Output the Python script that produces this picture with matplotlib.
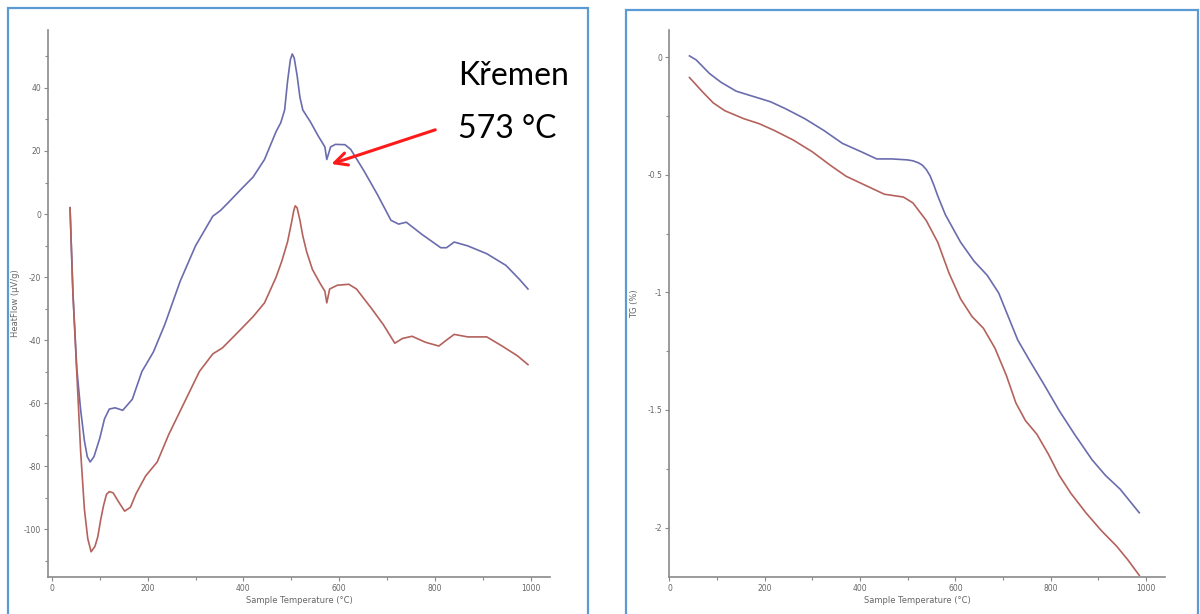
import matplotlib.pyplot as plt
from matplotlib.patches import Rectangle
from matplotlib.ticker import MultipleLocator, FuncFormatter

# DSC - HeatFlow (uV/g)
dsc_t_blue = [38, 44, 52, 60, 68, 74, 80, 88, 100, 110, 120, 132, 148, 168, 188, 212, 236, 268,
              300, 336, 352, 372, 396, 420, 444, 468, 478, 486, 492, 498, 502, 506, 512, 518, 524,
              540, 556, 570, 574, 582, 592, 612, 624, 652, 680, 708, 724, 740, 772, 812, 824, 840,
              868, 908, 948, 976, 994]
dsc_blue = [2, -25, -48.8, -62, -72, -77, -78.7, -77, -71.2, -65, -61.9, -61.5, -62.3, -58.8, -50,
            -43.8, -35, -21.3, -10.1, -0.7, 1.1, 4.2, 8, 11.7, 17.3, 26.1, 29, 33, 42, 49, 50.8,
            49.5, 44, 37, 33, 29.2, 24.8, 21.3, 17.3, 21.3, 22.1, 22, 20.5, 13.6, 6.1, -2, -3.2,
            -2.6, -6.4, -10.7, -10.7, -8.9, -10.1, -12.6, -16.3, -20.7, -23.8]

dsc_t_red = [38, 44, 52, 60, 68, 75, 82, 90, 96, 102, 108, 114, 120, 128, 140, 152, 164, 176, 196,
             220, 244, 276, 308, 336, 356, 388, 420, 444, 468, 480, 492, 500, 505, 508, 512, 518,
             524, 532, 544, 560, 570, 574, 580, 596, 620, 636, 668, 692, 716, 732, 752, 780, 808,
             824, 840, 868, 908, 940, 972, 994]
dsc_red = [2, -25, -50, -75, -93.7, -103, -107.2, -105.5, -102.4, -97, -92.5, -89, -88.1, -88.5,
           -91.5, -94.3, -93.1, -88.7, -83.1, -78.7, -70, -60, -50, -44.4, -42.5, -37.6, -32.6,
           -28.2, -20.1, -15, -8.9, -3, 1, 2.6, 2, -2, -7, -12, -17.6, -22, -24.5, -28.2, -23.8,
           -22.6, -22.3, -23.8, -30.1, -35.1, -41, -39.5, -38.8, -40.7, -41.9, -40, -38.2, -39,
           -39, -41.9, -45, -47.8]

# TG (%)
tg_t_blue = [42, 56, 84, 108, 140, 180, 212, 244, 284, 324, 363, 403, 435, 467, 499, 511, 523,
             531, 539, 547, 555, 563, 579, 611, 639, 667, 691, 711, 731, 755, 787, 818, 850, 887,
             915, 946, 986]
tg_blue = [0.005, -0.012, -0.07, -0.107, -0.145, -0.17, -0.19, -0.22, -0.262, -0.312, -0.367,
           -0.403, -0.433, -0.433, -0.437, -0.441, -0.45, -0.46, -0.478, -0.505, -0.545, -0.59,
           -0.67, -0.787, -0.867, -0.928, -1.003, -1.103, -1.203, -1.287, -1.395, -1.503, -1.603,
           -1.712, -1.778, -1.837, -1.937]

tg_t_red = [42, 68, 92, 116, 156, 188, 220, 260, 300, 339, 371, 411, 451, 491, 511, 539, 563,
            587, 611, 635, 659, 683, 707, 727, 747, 771, 795, 818, 842, 874, 906, 938, 962, 986]
tg_red = [-0.087, -0.145, -0.195, -0.228, -0.262, -0.283, -0.312, -0.353, -0.403, -0.462, -0.507,
          -0.545, -0.583, -0.595, -0.62, -0.695, -0.787, -0.92, -1.028, -1.103, -1.153, -1.237,
          -1.353, -1.47, -1.545, -1.603, -1.687, -1.778, -1.853, -1.937, -2.012, -2.078, -2.137,
          -2.203]

modra = "#6a6cae"
cervena = "#b4625c"
sediva = "#8a8a8a"
ramecek = "#5b9bd5"

fig = plt.figure(figsize=(12, 6.14), dpi=100)

# ramecky kolem grafu
fig.patches.append(Rectangle((8/1200, -0.05), 580/1200, 1 - 8/614 + 0.05, transform=fig.transFigure,
                             fill=False, edgecolor=ramecek, linewidth=1.6))
fig.patches.append(Rectangle((626/1200, -0.05), 572/1200, 1 - 10/614 + 0.05, transform=fig.transFigure,
                             fill=False, edgecolor=ramecek, linewidth=1.6))

ax1 = fig.add_axes([48/1200, 37/614, 502/1200, 547/614])
ax2 = fig.add_axes([669/1200, 37/614, 496/1200, 547/614])

# popisky s obycejnym minusem
popisek = FuncFormatter(lambda v, p: f"{v:g}")


def uprav_osu(ax):
    for s in ["top", "right"]:
        ax.spines[s].set_visible(False)
    for s in ["left", "bottom"]:
        ax.spines[s].set_color(sediva)
        ax.spines[s].set_linewidth(1.2)
    ax.tick_params(which="both", colors=sediva, labelcolor="#666666", labelsize=5.5, length=3,
                   width=0.8, pad=2)
    ax.tick_params(which="minor", length=2)
    ax.xaxis.set_major_locator(MultipleLocator(200))
    ax.xaxis.set_minor_locator(MultipleLocator(100))
    ax.xaxis.set_major_formatter(popisek)
    ax.yaxis.set_major_formatter(popisek)
    ax.set_xlabel("Sample Temperature (°C)", fontsize=6, color="#666666", labelpad=2)


ax1.plot(dsc_t_blue, dsc_blue, color=modra, lw=1.2)
ax1.plot(dsc_t_red, dsc_red, color=cervena, lw=1.2)
ax1.set_xlim(-8, 1040)
ax1.set_ylim(-115.2, 58.4)
uprav_osu(ax1)
ax1.yaxis.set_major_locator(MultipleLocator(20))
ax1.yaxis.set_minor_locator(MultipleLocator(10))
ax1.set_ylabel("HeatFlow (µV/g)", fontsize=6, color="#666666")
ax1.yaxis.set_label_coords(-0.055, 0.5)

ax1.annotate("", xy=(578, 15.6), xytext=(806, 27),
             arrowprops=dict(arrowstyle="->,head_length=0.9,head_width=0.45", color="#ff1a1a", lw=2.2),
             annotation_clip=False)
ax1.text(848, 41, "Křemen", fontsize=23, family="Lato", color="black", va="baseline", clip_on=False)
ax1.text(848, 24.1, "573 °C", fontsize=23, family="Lato", color="black", va="baseline", clip_on=False)

ax2.plot(tg_t_blue, tg_blue, color=modra, lw=1.2)
ax2.plot(tg_t_red, tg_red, color=cervena, lw=1.2)
ax2.set_xlim(-1, 1040)
ax2.set_ylim(-2.21, 0.115)
uprav_osu(ax2)
ax2.yaxis.set_major_locator(MultipleLocator(0.5))
ax2.yaxis.set_minor_locator(MultipleLocator(0.25))
ax2.set_ylabel("TG (%)", fontsize=6, color="#666666")
ax2.yaxis.set_label_coords(-0.06, 0.5)

fig.savefig("out.png", dpi=100)
